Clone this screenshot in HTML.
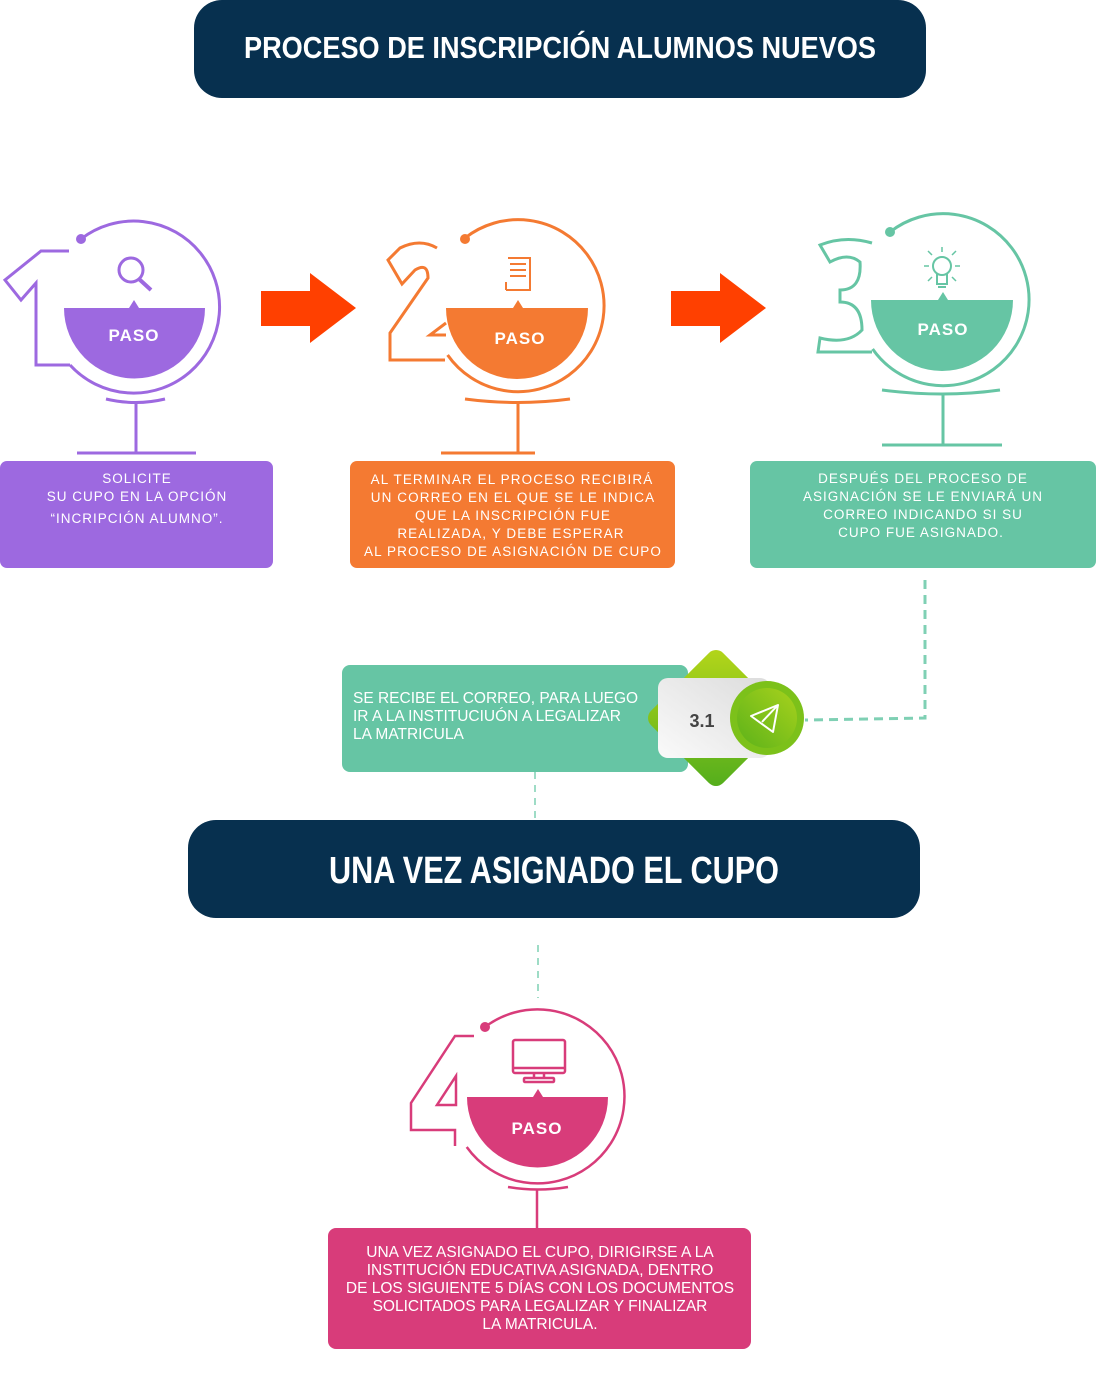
<!DOCTYPE html>
<html><head><meta charset="utf-8"><style>
html,body{margin:0;padding:0;background:#fff;}
svg{display:block;}
.t{font-family:"Liberation Sans",sans-serif;}
</style></head><body>
<svg width="1096" height="1375" viewBox="0 0 1096 1375" xmlns="http://www.w3.org/2000/svg">
<defs>
<linearGradient id="gg" x1="0" y1="0" x2="1" y2="1"><stop offset="0" stop-color="#b5d61a"/><stop offset="1" stop-color="#52ad1c"/></linearGradient>
<linearGradient id="gc" x1="1" y1="0" x2="0" y2="1"><stop offset="0" stop-color="#a8d21c"/><stop offset="1" stop-color="#5cb21a"/></linearGradient>
<linearGradient id="gw" x1="1" y1="0" x2="0" y2="1"><stop offset="0" stop-color="#dcdcdc"/><stop offset="1" stop-color="#fafafa"/></linearGradient>
</defs>

<!-- Title -->
<rect x="194" y="0" width="732" height="98" rx="28" fill="#07304f"/>
<text x="244" y="58" textLength="632" lengthAdjust="spacingAndGlyphs" fill="#fff" class="t" font-weight="bold" font-size="31">PROCESO DE INSCRIPCIÓN ALUMNOS NUEVOS</text>

<!-- STEP 1 -->
<g stroke="#9d69e0" stroke-width="3" fill="none">
<path d="M81 239 A86 86 0 1 1 70 365"/>
<polyline points="69,251 41,251 5,280 21,300 36,283 36,365 70,365"/>
<path d="M106 399 Q136 406 165 399"/>
<line x1="136" y1="403" x2="136" y2="453"/>
<line x1="77" y1="453" x2="196" y2="453"/>
<circle cx="131" cy="270" r="12"/>
<line x1="139" y1="279" x2="151" y2="290" stroke-width="4"/>
</g>
<circle cx="81" cy="239" r="5" fill="#9d69e0"/>
<path d="M64 308 H205 A70.5 70.5 0 0 1 64 308 Z" fill="#9d69e0"/>
<polygon points="129,308 134,300 139,308" fill="#9d69e0"/>
<text x="134" y="341" text-anchor="middle" fill="#fff" class="t" font-weight="bold" font-size="17" letter-spacing="1">PASO</text>

<!-- arrow 1 -->
<polygon points="261,291 310,291 310,273 356,308 310,343 310,326 261,326" fill="#ff4000"/>

<!-- STEP 2 -->
<g stroke="#f47a32" stroke-width="3" fill="none">
<path d="M465 238 A86 86 0 1 1 447.6 355"/>
<path d="M437 248 Q420 238 400 248 L388 260 L402 284 L415 270 Q428 262 428 278 L390 333 L390 360 L445 360"/>
<polyline points="446,323 430,335 446,335"/>
<path d="M465 399 Q518 406 570 399"/>
<line x1="518" y1="403" x2="518" y2="453"/>
<line x1="441" y1="453" x2="535" y2="453"/>
<path d="M508 258 H530 V290 H506 M506 282 V290 M510 264 H526 M510 270 H526 M510 276 H526" stroke-width="2"/>
</g>
<circle cx="465" cy="239" r="5" fill="#f47a32"/>
<path d="M446 308 H588 A71 71 0 0 1 446 308 Z" fill="#f47a32"/>
<polygon points="513,308 518,300 523,308" fill="#f47a32"/>
<text x="520" y="344" text-anchor="middle" fill="#fff" class="t" font-weight="bold" font-size="17" letter-spacing="1">PASO</text>

<!-- arrow 2 -->
<polygon points="671,291 720,291 720,273 766,308 720,343 720,326 671,326" fill="#ff4000"/>

<!-- STEP 3 -->
<g stroke="#66c5a4" stroke-width="3" fill="none">
<path d="M890 232 A86 86 0 1 1 872.6 349"/>
<path d="M872 243 Q845 235 820 245 L830 262 Q848 252 860 262 Q862 290 840 290 L840 302 Q862 302 862 330 Q848 345 820 338 L818 352 L872 352"/>
<path d="M882 390 Q943 398 1000 390"/>
<line x1="943" y1="394" x2="943" y2="445"/>
<line x1="882" y1="445" x2="1002" y2="445"/>
<circle cx="942" cy="266" r="9" stroke-width="2"/>
<path d="M937 274 V284 H947 V274 M938 287 H946" stroke-width="2"/>
<path d="M929 266 H924 M955 266 H960 M932 255 L928 251 M952 255 L956 251 M942 252 V247 M932 277 L928 281 M952 277 L956 281" stroke-width="1.5"/>
</g>
<circle cx="890" cy="232" r="5" fill="#66c5a4"/>
<path d="M871 300 H1013 A71 71 0 0 1 871 300 Z" fill="#66c5a4"/>
<polygon points="938,300 943,292 948,300" fill="#66c5a4"/>
<text x="943" y="335" text-anchor="middle" fill="#fff" class="t" font-weight="bold" font-size="17" letter-spacing="1">PASO</text>

<!-- Text boxes -->
<rect x="0" y="461" width="273" height="107" rx="7" fill="#9d69e0"/>
<g class="t" fill="#fff" font-size="13.5" text-anchor="middle" letter-spacing="1">
<text x="137" y="483">SOLICITE</text>
<text x="137" y="501">SU CUPO EN LA OPCIÓN</text>
<text x="137" y="523">“INCRIPCIÓN ALUMNO”.</text>
</g>
<rect x="350" y="461" width="325" height="107" rx="7" fill="#f47a32"/>
<g class="t" fill="#fff" font-size="13.5" text-anchor="middle" letter-spacing="1.1">
<text x="512" y="484">AL TERMINAR EL PROCESO RECIBIRÁ</text>
<text x="513" y="502">UN CORREO EN EL QUE SE LE INDICA</text>
<text x="513" y="520">QUE  LA INSCRIPCIÓN FUE</text>
<text x="511" y="538">REALIZADA, Y DEBE ESPERAR</text>
<text x="513" y="556">AL PROCESO DE  ASIGNACIÓN DE CUPO</text>
</g>
<rect x="750" y="461" width="346" height="107" rx="7" fill="#66c5a4"/>
<g class="t" fill="#fff" font-size="13.5" text-anchor="middle" letter-spacing="1">
<text x="923" y="483">DESPUÉS DEL PROCESO DE</text>
<text x="923" y="501">ASIGNACIÓN SE LE ENVIARÁ UN</text>
<text x="923" y="519">CORREO INDICANDO SI SU</text>
<text x="921" y="537">CUPO FUE ASIGNADO.</text>
</g>

<!-- dashed connectors -->
<g stroke="#7fd0b4" stroke-width="3" stroke-dasharray="9 6" fill="none">
<polyline points="925,580 925,718 805,720"/>
</g>
<g stroke="#7fd0b4" stroke-width="1.5" stroke-dasharray="7 6" fill="none">
<line x1="535" y1="772" x2="535" y2="820"/>
<line x1="538" y1="945" x2="538" y2="998"/>
</g>

<!-- 3.1 -->
<rect x="342" y="665" width="346" height="107" rx="8" fill="#66c5a4"/>
<g class="t" fill="#fff" font-size="15.5">
<text x="353" y="703">SE RECIBE EL CORREO, PARA LUEGO</text>
<text x="353" y="721">IR A LA INSTITUCIUÓN A LEGALIZAR</text>
<text x="353" y="739">LA MATRICULA</text>
</g>
<rect x="665" y="667" width="102" height="102" rx="10" transform="rotate(45 716 718)" fill="url(#gg)"/>
<rect x="658" y="678" width="112" height="80" rx="10" fill="url(#gw)"/>
<text x="702" y="727" text-anchor="middle" class="t" font-weight="bold" font-size="18" fill="#444">3.1</text>
<circle cx="767" cy="718" r="37" fill="#7cc11a"/>
<circle cx="767" cy="718" r="30" fill="url(#gc)"/>
<g stroke="#fff" stroke-width="2" fill="none" stroke-linejoin="round">
<polygon points="751,716 778,705 773,732"/>
<polyline points="762,722 778,705"/>
</g>

<!-- banner 2 -->
<rect x="188" y="820" width="732" height="98" rx="28" fill="#07304f"/>
<text x="329" y="883" textLength="450" lengthAdjust="spacingAndGlyphs" fill="#fff" class="t" font-weight="bold" font-size="38">UNA VEZ ASIGNADO EL CUPO</text>

<!-- STEP 4 -->
<g stroke="#d83c7a" stroke-width="2.5" fill="none">
<path d="M485 1027 A87 87 0 1 1 466.7 1147"/>
<polyline points="474,1036 455,1036 411,1103 411,1130 455,1130 455,1146"/>
<polygon points="456,1076 456,1105 437,1105"/>
<path d="M508 1187 Q538 1192 568 1187"/>
<line x1="537" y1="1190" x2="537" y2="1228"/>
<rect x="513" y="1040" width="52" height="33" rx="2"/>
<line x1="513" y1="1068" x2="565" y2="1068"/>
<line x1="534" y1="1073" x2="534" y2="1078"/><line x1="544" y1="1073" x2="544" y2="1078"/>
<rect x="524" y="1078" width="30" height="4" rx="1"/>
</g>
<circle cx="485" cy="1027" r="5" fill="#d83c7a"/>
<path d="M467 1097 H608 A70.5 70.5 0 0 1 467 1097 Z" fill="#d83c7a"/>
<polygon points="533,1097 538,1089 543,1097" fill="#d83c7a"/>
<text x="537" y="1134" text-anchor="middle" fill="#fff" class="t" font-weight="bold" font-size="17" letter-spacing="1">PASO</text>

<rect x="328" y="1228" width="423" height="121" rx="8" fill="#d83c7a"/>
<g class="t" fill="#fff" font-size="15.5" text-anchor="middle">
<text x="540" y="1257">UNA VEZ ASIGNADO EL CUPO, DIRIGIRSE A LA</text>
<text x="540" y="1275">INSTITUCIÓN EDUCATIVA ASIGNADA, DENTRO</text>
<text x="540" y="1293">DE LOS SIGUIENTE 5 DÍAS CON LOS DOCUMENTOS</text>
<text x="540" y="1311">SOLICITADOS PARA LEGALIZAR Y FINALIZAR</text>
<text x="540" y="1329">LA MATRICULA.</text>
</g>
</svg>
</body></html>
